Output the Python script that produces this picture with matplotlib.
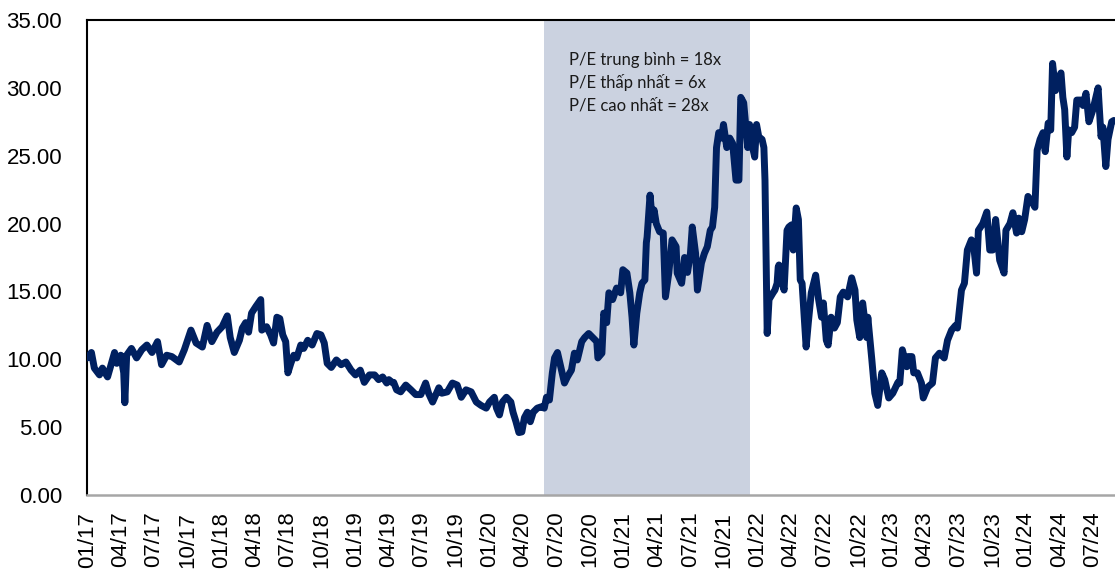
import matplotlib
matplotlib.use("Agg")
import matplotlib.pyplot as plt
import pandas as pd

# ---- data ----
dates = [
    "2017-01-01", "2017-01-12", "2017-01-20", "2017-02-03", "2017-02-11", "2017-02-25", "2017-03-05",
    "2017-03-16", "2017-03-22", "2017-04-02", "2017-04-10", "2017-04-13", "2017-04-18", "2017-05-01",
    "2017-05-15", "2017-05-29", "2017-06-12", "2017-06-26", "2017-07-11", "2017-07-22", "2017-08-05",
    "2017-08-19", "2017-09-08", "2017-09-22", "2017-10-10", "2017-10-24", "2017-11-10", "2017-11-23",
    "2017-12-06", "2017-12-20",
    "2018-01-03", "2018-01-17", "2018-01-25", "2018-02-05", "2018-02-19", "2018-02-27", "2018-03-08",
    "2018-03-16", "2018-03-24", "2018-04-05", "2018-04-18", "2018-04-21", "2018-05-04", "2018-05-15",
    "2018-05-23", "2018-06-01", "2018-06-09", "2018-06-17", "2018-06-25", "2018-07-01", "2018-07-09",
    "2018-07-17", "2018-07-25", "2018-08-05", "2018-08-13", "2018-08-24", "2018-09-05", "2018-09-18",
    "2018-09-29", "2018-10-08", "2018-10-16", "2018-10-27", "2018-11-10", "2018-11-23", "2018-12-06",
    "2018-12-20",
    "2019-01-01", "2019-01-14", "2019-01-25", "2019-02-08", "2019-02-22", "2019-03-05", "2019-03-16",
    "2019-03-27", "2019-04-02", "2019-04-10", "2019-04-15", "2019-04-23", "2019-05-04", "2019-05-18",
    "2019-06-01", "2019-06-14", "2019-06-28", "2019-07-11", "2019-07-19", "2019-07-30", "2019-08-16",
    "2019-08-24", "2019-09-08", "2019-09-22", "2019-10-05", "2019-10-16", "2019-10-29", "2019-11-12",
    "2019-11-26", "2019-12-09", "2019-12-23",
    "2020-01-01", "2020-01-14", "2020-01-20", "2020-01-28", "2020-02-05", "2020-02-16", "2020-02-28",
    "2020-03-05", "2020-03-13", "2020-03-21", "2020-03-29", "2020-04-05", "2020-04-13", "2020-04-21",
    "2020-04-29", "2020-05-10", "2020-05-21", "2020-05-29", "2020-06-04", "2020-06-12", "2020-06-20",
    "2020-06-26", "2020-07-04", "2020-07-15", "2020-07-23", "2020-07-31", "2020-08-11", "2020-08-19",
    "2020-08-27", "2020-09-08", "2020-09-16", "2020-09-27", "2020-10-08", "2020-10-19", "2020-10-22",
    "2020-11-02", "2020-11-07", "2020-11-15", "2020-11-21", "2020-12-01", "2020-12-12", "2020-12-23",
    "2020-12-29",
    "2021-01-09", "2021-01-17", "2021-01-23", "2021-01-28", "2021-02-05", "2021-02-13", "2021-02-19",
    "2021-02-27", "2021-03-03", "2021-03-05", "2021-03-13", "2021-03-19", "2021-03-24", "2021-03-30",
    "2021-04-08", "2021-04-18", "2021-04-24", "2021-05-03", "2021-05-12", "2021-05-23", "2021-05-26",
    "2021-06-07", "2021-06-15", "2021-06-23", "2021-07-01", "2021-07-06", "2021-07-15", "2021-07-20",
    "2021-07-31", "2021-08-08", "2021-08-16", "2021-08-24", "2021-08-30", "2021-09-05", "2021-09-10",
    "2021-09-16", "2021-09-24", "2021-09-29", "2021-10-08", "2021-10-16", "2021-10-24", "2021-11-02",
    "2021-11-10", "2021-11-15", "2021-11-23", "2021-11-29", "2021-12-04", "2021-12-09", "2021-12-15",
    "2021-12-23", "2021-12-28",
    "2022-01-03", "2022-01-12", "2022-01-17", "2022-01-20", "2022-01-24", "2022-01-26", "2022-01-31",
    "2022-02-11", "2022-02-16", "2022-02-22", "2022-02-25", "2022-02-27", "2022-03-05", "2022-03-13",
    "2022-03-21", "2022-03-26", "2022-04-02", "2022-04-07", "2022-04-15", "2022-04-21", "2022-04-26",
    "2022-05-01", "2022-05-12", "2022-05-18", "2022-05-26", "2022-06-07", "2022-06-15", "2022-06-23",
    "2022-06-28", "2022-07-06", "2022-07-11", "2022-07-19", "2022-07-28", "2022-08-05", "2022-08-13",
    "2022-08-21", "2022-09-02", "2022-09-13", "2022-09-22", "2022-09-27", "2022-10-05", "2022-10-13",
    "2022-10-24", "2022-10-27", "2022-11-07", "2022-11-15", "2022-11-23", "2022-12-04", "2022-12-12",
    "2022-12-23",
    "2023-01-03", "2023-01-17", "2023-01-22", "2023-01-29", "2023-02-05", "2023-02-10", "2023-02-13",
    "2023-02-24", "2023-03-01", "2023-03-11", "2023-03-22", "2023-03-27", "2023-04-08", "2023-04-21",
    "2023-04-29", "2023-05-10", "2023-05-23", "2023-06-01", "2023-06-12", "2023-06-23", "2023-06-28",
    "2023-07-09", "2023-07-17", "2023-07-25", "2023-08-05", "2023-08-11", "2023-08-19", "2023-08-24",
    "2023-09-05", "2023-09-16", "2023-09-24", "2023-10-02", "2023-10-10", "2023-10-21", "2023-11-02",
    "2023-11-07", "2023-11-18", "2023-11-26", "2023-12-06", "2023-12-12", "2023-12-20", "2023-12-28",
    "2024-01-06", "2024-01-17", "2024-01-25", "2024-01-31", "2024-02-08", "2024-02-16", "2024-02-22",
    "2024-03-01", "2024-03-08", "2024-03-13", "2024-03-21", "2024-03-27", "2024-04-05", "2024-04-10",
    "2024-04-15", "2024-04-21", "2024-04-26", "2024-05-04", "2024-05-12", "2024-05-18", "2024-05-29",
    "2024-06-04", "2024-06-12", "2024-06-20", "2024-07-01", "2024-07-09", "2024-07-15", "2024-07-23",
    "2024-07-28", "2024-08-05", "2024-08-11", "2024-08-21", "2024-08-27",
]

pe = [
    10.1, 10.5, 9.35, 8.85, 9.35, 8.7, 9.45,
    10.5, 9.7, 10.3, 9.0, 6.8, 10.3, 10.8,
    10.1, 10.7, 11.05, 10.5, 11.3, 9.6, 10.3,
    10.2, 9.8, 10.7, 12.15, 11.2, 10.9, 12.5,
    11.3, 12.0,
    12.4, 13.2, 11.6, 10.5, 11.4, 12.3, 12.7,
    12.0, 13.4, 13.9, 14.4, 12.15, 12.4, 11.8,
    11.2, 13.1, 13.0, 11.8, 11.3, 9.0, 9.7,
    10.3, 10.1, 11.05, 10.8, 11.4, 11.05, 11.9,
    11.8, 11.2, 9.7, 9.4, 9.95, 9.6, 9.8,
    9.2,
    8.85, 9.2, 8.3, 8.85, 8.85, 8.5, 8.7,
    8.25, 8.5, 8.3, 8.3, 7.75, 7.6, 8.1,
    7.75, 7.4, 7.4, 8.25, 7.5, 6.85, 7.9,
    7.5, 7.6, 8.25, 8.1, 7.2, 7.75, 7.6,
    6.85, 6.6, 6.4,
    6.85, 7.2, 6.4, 5.9, 6.85, 7.2, 6.85,
    6.1, 5.4, 4.6, 4.65, 5.7, 6.1, 5.4,
    6.1, 6.4, 6.5, 6.4, 7.2, 7.0, 9.0,
    10.1, 10.5, 9.2, 8.25, 8.7, 9.2, 10.45,
    9.95, 11.3, 11.6, 11.9, 11.6, 11.3, 10.1,
    10.45, 13.4, 12.7, 14.9, 14.4, 15.25, 14.9,
    16.6,
    16.35, 14.9, 13.1, 11.05, 13.4, 14.9, 15.6,
    15.85, 18.6, 19.0, 22.1, 20.3, 21.0, 20.0,
    19.4, 19.3, 14.6, 16.35, 18.8, 18.3, 16.35,
    15.6, 17.5, 16.4, 17.8, 19.75, 17.8, 15.1,
    17.1, 17.8, 18.3, 19.5, 19.75, 21.2, 25.6,
    26.7, 26.3, 27.3, 25.6, 26.3, 25.9, 23.2,
    23.2, 29.3, 28.9, 27.1, 25.6, 27.3, 25.9,
    24.9, 27.3,
    26.4, 26.2, 25.6, 23.2, 15.85, 11.9, 14.4,
    14.9, 15.1, 15.6, 16.8, 16.95, 16.1, 15.1,
    19.5, 19.75, 19.9, 18.05, 21.15, 20.3, 15.85,
    15.6, 10.9, 12.7, 14.9, 16.2, 14.4, 13.1,
    14.15, 11.4, 11.05, 13.1, 12.3, 12.7, 14.6,
    14.95, 14.6, 16.0, 15.1, 12.9, 11.6, 14.15,
    11.6, 13.1, 9.95, 7.5, 6.6, 9.0, 8.5,
    7.15,
    7.5, 8.3, 8.25, 10.7, 9.95, 9.45, 10.2,
    10.2, 9.0, 9.0, 8.25, 7.15, 7.95, 8.25,
    10.1, 10.45, 10.1, 11.4, 12.15, 12.5, 12.3,
    15.1, 15.6, 18.05, 18.8, 18.4, 16.35, 19.5,
    20.0, 20.85, 18.05, 18.05, 20.3, 17.3, 16.35,
    19.5, 20.0, 20.8, 19.3, 20.4, 19.4, 20.3,
    22.0, 21.6, 21.2, 25.4, 26.2, 26.7, 25.3,
    27.4, 26.9, 31.8, 29.8, 30.6, 31.1, 29.3,
    28.4, 24.9, 26.9, 26.7, 27.1, 29.1, 29.1,
    28.7, 29.6, 27.5, 28.4, 29.3, 30.0, 26.4,
    27.1, 24.2, 26.2, 27.5, 27.6,
]

shade_start = "2020-05-28"
shade_end = "2021-12-10"
notes = ["P/E trung bình = 18x", "P/E thấp nhất = 6x", "P/E cao nhất = 28x"]
x_start = "2016-12-31"
x_end = "2024-08-30"
tick_start = "2017-01-01"
tick_end = "2024-07-01"

# ---- figure ----
plt.rcParams["font.family"] = ["Liberation Sans", "DejaVu Sans"]
fig = plt.figure(figsize=(11.15, 5.70), dpi=100)
ax = fig.add_axes([87 / 1115, 1 - 495 / 570, 1 - 87 / 1115, (495 - 20) / 570])

d = pd.to_datetime(dates)
ax.axvspan(pd.Timestamp(shade_start), pd.Timestamp(shade_end), color="#CBD2E0", lw=0, zorder=0)
ax.plot(d, pe, color="#002060", lw=5.0, solid_joinstyle="round", solid_capstyle="round", zorder=3)

ax.set_xlim(pd.Timestamp(x_start), pd.Timestamp(x_end))
ax.set_ylim(0, 35)
ax.set_yticks([0, 5, 10, 15, 20, 25, 30, 35])
ax.yaxis.set_major_formatter(matplotlib.ticker.FormatStrFormatter("%.2f"))

ticks = pd.date_range(tick_start, tick_end, freq="QS")
ax.set_xticks(ticks)
ax.set_xticklabels([t.strftime("%m/%y") for t in ticks], rotation=90)

ax.tick_params(axis="y", length=0, pad=18, labelsize=16, colors="black")
ax.tick_params(axis="x", length=0, pad=12, labelsize=16, colors="black")

for s in ["top", "left"]:
    ax.spines[s].set_color("black")
    ax.spines[s].set_linewidth(1.5)
ax.spines["right"].set_visible(False)
ax.spines["bottom"].set_color("#A6A6A6")
ax.spines["bottom"].set_linewidth(1.8)

ys = [0.916, 0.868, 0.820]
for txt, yy in zip(notes, ys):
    ax.text(0.469, yy, txt, transform=ax.transAxes, fontsize=12, va="center", ha="left",
            family=["Lato", "DejaVu Sans"], color="#1a1a1a", zorder=4)

fig.savefig("out.png", dpi=100)
